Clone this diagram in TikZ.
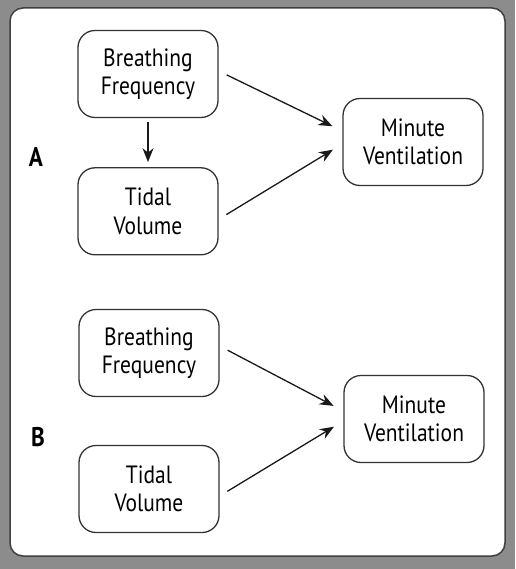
\documentclass[tikz,border=0pt]{standalone}
\usepackage{fontspec}
\setmainfont{PT Sans}[FakeStretch=0.86]
\usetikzlibrary{arrows.meta}
\usetikzlibrary{positioning}

\begin{document}
\begin{tikzpicture}
        [x=1pt, y=-1pt, node distance=49pt,
         box/.style={draw=black!80, line width=1.3pt, rounded corners=17pt,
                     minimum width=140pt, minimum height=87pt, align=center,
                     text=black, font=\fontsize{25}{28.5}\selectfont},
         lbl/.style={text=black, font=\fontsize{27}{30}\selectfont\bfseries},
         link/.style={line width=1.3pt, draw=black!90,
                      -{Stealth[length=14pt, width=11pt]},
                      shorten <=9pt, shorten >=11pt}]
        \useasboundingbox (0,0) rectangle (515,569);
        % frame
        \fill [black!45] (0,0) rectangle (515,569);
        \filldraw [fill=white, draw=black!75, line width=1.5pt, rounded corners=13pt]
            (10,8) rectangle (505,556);
        % part A
        \node [box] (bfA) at (148,74) {Breathing\\Frequency};
        \node [box, below=of bfA] (tvA) {Tidal\\Volume};
        \node [box] (mvA) at (413,142) {Minute\\Ventilation};
        \node [lbl] (labA) at (36,157) {A};
        \draw [link] ([yshift=3pt]bfA.east) -- ([yshift=11pt]mvA.west);
        \draw [link] ([yshift=-8pt]tvA.east) -- ([yshift=-2pt]mvA.west);
        \draw [link, shorten <=4pt, shorten >=5pt] (bfA) -- (tvA);
        % part B
        \node [box] (bfB) at (149,353) {Breathing\\Frequency};
        \node [box] (tvB) at (149,489) {Tidal\\Volume};
        \node [box] (mvB) at (414,419) {Minute\\Ventilation};
        \node [lbl] (labB) at (38,437) {B};
        \draw [link] ([yshift=7pt]bfB.east) -- ([yshift=8pt]mvB.west);
        \draw [link] ([yshift=-7pt]tvB.east) -- ([yshift=-2pt]mvB.west);
\end{tikzpicture}
\end{document}
